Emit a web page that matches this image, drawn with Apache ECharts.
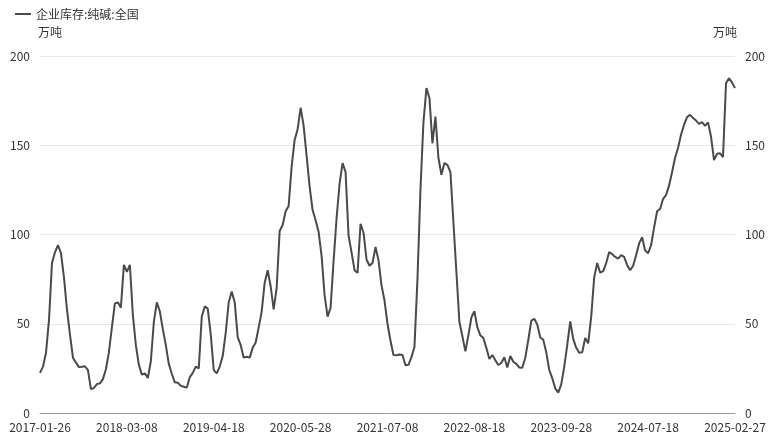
<!DOCTYPE html>
<html>
<head>
<meta charset="utf-8">
<script src="https://cdn.jsdelivr.net/npm/echarts@6/dist/echarts.min.js"></script>
<style>
html,body{margin:0;padding:0;background:#fff;}
#chart{width:779px;height:439px;}
</style>
</head>
<body>
<div id="chart"></div>
<script>
// Tick labels shown on the category axis (every 29th category)
const labelDates = ['2017-01-26','2018-03-08','2019-04-18','2020-05-28','2021-07-08','2022-08-18','2023-09-28','2024-07-18','2025-02-27'];
const pointsPerLabel = 29;
const seriesName = '企业库存:纯碱:全国';
const unitName = '万吨';
const yMin = 0, yMax = 200, yInterval = 50;

// Inventory values (万吨)
const inventory = [
  22.5, 26, 33.6, 52, 84, 90, 94, 89.5, 76, 58, 44, 31, 28.2, 25.7, 25.9, 26.2, 24, 13.4, 14, 16.2,
  16.6, 19, 24.5, 34, 48, 61.4, 62, 59, 83, 79, 83, 55, 38, 27, 21.5, 22.2, 19.6, 29, 51, 62,
  57, 47, 38, 27.5, 22, 17.2, 17, 15.2, 14.7, 14.2, 20, 22.5, 26, 25, 54, 59.7, 58.5, 44, 24, 22.2,
  26, 32, 45, 62, 68, 62, 42.5, 38, 31, 31.5, 31, 36.5, 39.5, 48, 56.8, 73, 80, 71, 58, 70,
  102, 105.3, 113, 116, 138, 153, 159, 171, 161, 144, 127, 113.7, 108, 101.5, 88, 66, 54, 59, 85, 109,
  128.5, 140, 135, 99.5, 90, 80, 78.5, 106, 101, 86, 82.5, 84, 93, 85.5, 71.5, 63, 50, 40.5, 32.5, 32.4,
  32.8, 32.5, 26.8, 27, 31.3, 37, 75, 125, 163, 182, 176.5, 151, 166, 143, 133.5, 140, 139, 135, 107, 79,
  51, 43, 34.5, 43.5, 53.5, 57, 48, 43.5, 42, 36.5, 30.3, 32.5, 29.5, 26.9, 28, 31.2, 25.5, 32, 28.7, 27.5,
  25.5, 25.4, 31, 40.9, 51.8, 52.8, 49.5, 42.3, 41, 34, 24.1, 19.5, 13.8, 11.4, 16, 26, 38, 51.3, 41.5, 36.5,
  33.7, 34, 42, 39, 54, 76, 84, 78.6, 79.5, 84, 90.2, 89, 87.4, 86.5, 88.5, 87.5, 82.8, 80, 82.5, 88.5,
  95, 98.5, 91, 89.5, 94, 104, 113, 114.3, 120, 122.1, 127.5, 135, 143, 148.6, 156, 161.5, 165.8, 167, 165.3, 163.8,
  162, 163, 160.8, 162.8, 154.8, 141.7, 145.2, 145.5, 143.4, 184.7, 187.5, 185.2, 182
];

// Build category strings: labelled dates, with intermediate dates between them
function fmt(d){
  const y = d.getUTCFullYear(), m = String(d.getUTCMonth()+1).padStart(2,'0'), dd = String(d.getUTCDate()).padStart(2,'0');
  return y + '-' + m + '-' + dd;
}
const categories = [];
for (let k = 0; k < labelDates.length - 1; k++) {
  const a = Date.parse(labelDates[k] + 'T00:00:00Z'), b = Date.parse(labelDates[k+1] + 'T00:00:00Z');
  for (let j = 0; j < pointsPerLabel; j++) {
    categories.push(j === 0 ? labelDates[k] : fmt(new Date(a + (b - a) * j / pointsPerLabel)));
  }
}
categories.push(labelDates[labelDates.length - 1]);

const font = '"Noto Sans CJK SC", "Noto Sans", sans-serif';
const chart = echarts.init(document.getElementById('chart'), null, {renderer: 'canvas'});
chart.setOption({
  animation: false,
  backgroundColor: '#fff',
  textStyle: {fontFamily: font},
  legend: {
    left: 10, top: 3,
    itemWidth: 16, itemHeight: 8, itemGap: 8,
    textStyle: {color: '#333', fontSize: 12, fontFamily: font},
    data: [{name: seriesName, icon: 'path://M0,3.5 L16,3.5 L16,5.5 L0,5.5 Z'}]
  },
  grid: {left: 40, right: 44, top: 56, bottom: 26, containLabel: false},
  xAxis: {
    type: 'category',
    data: categories,
    boundaryGap: false,
    axisLine: {lineStyle: {color: '#999', width: 1}},
    axisTick: {show: false},
    axisLabel: {
      interval: pointsPerLabel - 1,
      color: '#333', fontSize: 12, margin: 8, fontFamily: font
    },
    splitLine: {show: false}
  },
  yAxis: [
    {
      type: 'value', min: yMin, max: yMax, interval: yInterval,
      name: unitName, nameLocation: 'end', nameGap: 18,
      nameTextStyle: {color: '#333', fontSize: 12, align: 'left', padding: [0, 0, 0, -2], fontFamily: font},
      axisLine: {show: false}, axisTick: {show: false},
      axisLabel: {color: '#333', fontSize: 12, margin: 10, fontFamily: font},
      splitLine: {lineStyle: {color: '#e6e6e6', width: 1}}
    },
    {
      type: 'value', min: yMin, max: yMax, interval: yInterval, position: 'right',
      name: unitName, nameLocation: 'end', nameGap: 18,
      nameTextStyle: {color: '#333', fontSize: 12, align: 'right', padding: [0, -2, 0, 0], fontFamily: font},
      axisLine: {show: false}, axisTick: {show: false},
      axisLabel: {color: '#333', fontSize: 12, margin: 10, fontFamily: font},
      splitLine: {show: false}
    }
  ],
  series: [{
    name: seriesName,
    type: 'line',
    yAxisIndex: 0,
    data: inventory,
    symbol: 'none',
    lineStyle: {color: '#4a4a4a', width: 2},
    itemStyle: {color: '#4a4a4a'}
  }]
});
</script>
</body>
</html>
